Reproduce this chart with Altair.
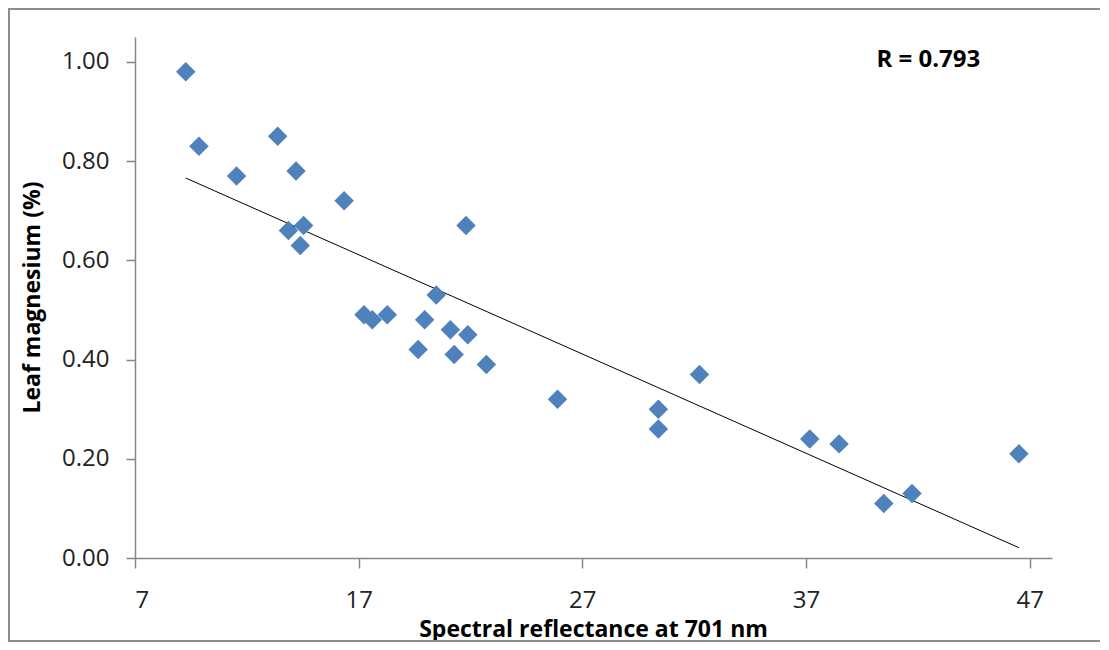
import altair as alt
import pandas as pd

# Spectral reflectance at 701 nm
reflectance = [9.27, 9.86, 11.54, 13.38, 14.20, 13.86, 14.54, 14.39, 16.35, 17.24,
               17.61, 18.28, 19.66, 19.95, 20.47, 21.10, 21.27, 21.80, 21.88, 22.71,
               25.89, 30.40, 30.40, 32.24, 37.17, 38.48, 40.48, 41.74, 46.52]
# Leaf magnesium (%)
magnesium = [0.98, 0.83, 0.77, 0.85, 0.78, 0.66, 0.67, 0.63, 0.72, 0.49,
             0.48, 0.49, 0.42, 0.48, 0.53, 0.46, 0.41, 0.67, 0.45, 0.39,
             0.32, 0.30, 0.26, 0.37, 0.24, 0.23, 0.11, 0.13, 0.21]

x_ticks = [7, 17, 27, 37, 47]
y_ticks = [0.0, 0.2, 0.4, 0.6, 0.8, 1.0]
x_title = "Spectral reflectance at 701 nm"
y_title = "Leaf magnesium (%)"
r_label = ["R = 0.793"]
r_label_x = [40.15]
r_label_y = [1.004]

df = pd.DataFrame({"x": reflectance, "y": magnesium})
ann = pd.DataFrame({"t": r_label, "x": r_label_x, "y": r_label_y})

FONT = "Open Sans"
AX = "#868686"

xs = alt.Scale(domain=[7, 48], nice=False, zero=False)
ys = alt.Scale(domain=[0, 1.05], nice=False)

x_axis = alt.Axis(values=x_ticks, format="d", title=x_title, tickSize=10,
                  labelPadding=20, titleX=458, titleY=78, titleBaseline="alphabetic",
                  titleAlign="center")
y_axis = alt.Axis(values=y_ticks, format=".2f", title=y_title, tickSize=9,
                  labelPadding=17, titleX=-96, titleY=260, titleAngle=-90,
                  titleBaseline="alphabetic", titleAlign="center")

border = alt.Chart(pd.DataFrame({"a": [0]})).mark_rect(
    fillOpacity=0, stroke="#8c8c8c", strokeWidth=2
).encode(x=alt.value(-126), x2=alt.value(990), y=alt.value(-28), y2=alt.value(604))

points = alt.Chart(df).mark_point(
    shape="diamond", filled=True, size=380, color="#4F81BD", opacity=1
).encode(x=alt.X("x:Q", scale=xs, axis=x_axis), y=alt.Y("y:Q", scale=ys, axis=y_axis))

trend = alt.Chart(df).transform_regression("x", "y").mark_line(
    color="#000000", strokeWidth=1
).encode(x=alt.X("x:Q", scale=xs), y=alt.Y("y:Q", scale=ys))

label = alt.Chart(ann).mark_text(
    font=FONT, fontSize=24, fontWeight="bold", align="left", baseline="middle", color="#000000"
).encode(x=alt.X("x:Q", scale=xs), y=alt.Y("y:Q", scale=ys), text="t:N")

chart = alt.layer(border, trend, points, label).properties(
    width=917, height=521,
    autosize=alt.AutoSizeParams(type="none"),
    padding={"left": 127, "top": 29, "right": 48, "bottom": 84},
).configure_view(stroke=None).configure_axis(
    grid=False, domainColor=AX, tickColor=AX, domainWidth=1.5, tickWidth=1.5,
    labelFont=FONT, labelFontSize=24, labelColor="#222222",
    titleFont=FONT, titleFontSize=23, titleFontWeight="bold", titleColor="#000000",
)

chart.save("out.html", embed_options={"renderer": "svg", "actions": False})
